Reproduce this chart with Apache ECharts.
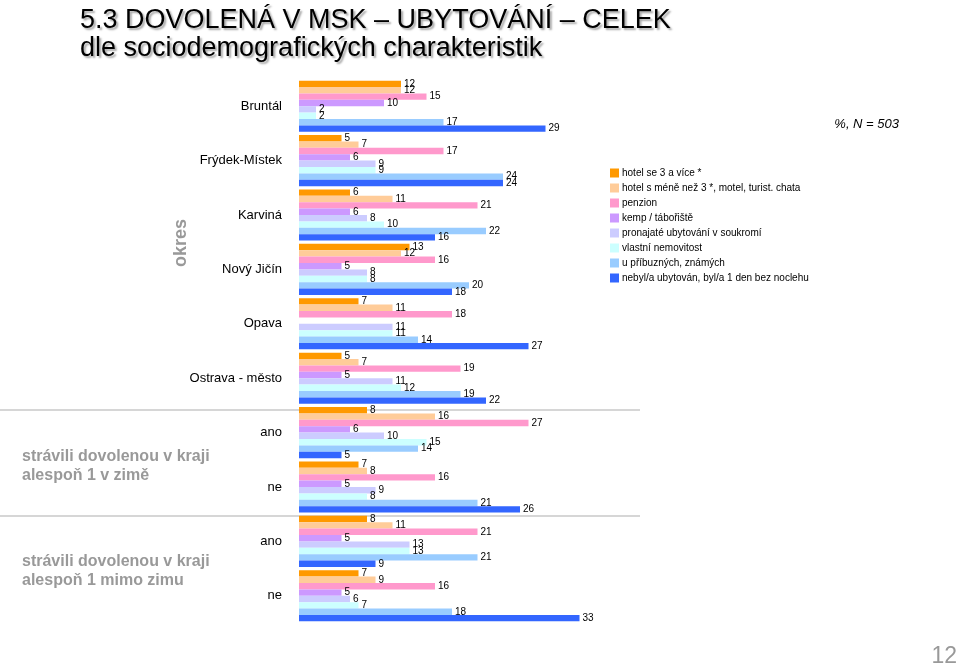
<!DOCTYPE html>
<html>
<head>
<meta charset="utf-8">
<script src="https://cdn.jsdelivr.net/npm/echarts@6/dist/echarts.min.js"></script>
<style>html,body{margin:0;padding:0;background:#fff;}#c{width:960px;height:667px;}</style>
</head>
<body>
<div id="c"></div>
<script>
const categories = ['Bruntál','Frýdek-Místek','Karviná','Nový Jičín','Opava','Ostrava - město','ano','ne','ano','ne'];
const seriesNames = ['hotel se 3 a více *','hotel s méně než 3 *, motel, turist. chata','penzion','kemp / tábořiště','pronajaté ubytování v soukromí','vlastní nemovitost','u příbuzných, známých','nebyl/a ubytován, byl/a 1 den bez noclehu'];
const hotel3 =     [12, 5, 6, 13, 7, 5, 8, 7, 8, 7];
const hotelLess =  [12, 7, 11, 12, 11, 7, 16, 8, 11, 9];
const penzion =    [15, 17, 21, 16, 18, 19, 27, 16, 21, 16];
const kemp =       [10, 6, 6, 5, null, 5, 6, 5, 5, 5];
const pronajate =  [2, 9, 8, 8, 11, 11, 10, 9, 13, 6];
const vlastni =    [2, 9, 10, 8, 11, 12, 15, 8, 13, 7];
const pribuzni =   [17, 24, 22, 20, 14, 19, 14, 21, 21, 18];
const nebyl =      [29, 24, 16, 18, 27, 22, 5, 26, 9, 33];
const seriesData = [hotel3, hotelLess, penzion, kemp, pronajate, vlastni, pribuzni, nebyl];
const colors = ['#FF9900','#FFCC99','#FF99CC','#CC99FF','#CCCCFF','#CCFFFF','#99CCFF','#3366FF'];

const FONT = 'Liberation Sans, Arial, sans-serif';
const chart = echarts.init(document.getElementById('c'));
chart.setOption({
  animation: false,
  color: colors,
  textStyle: { fontFamily: FONT },
  grid: { left: 299, top: 79, width: 340, bottom: 44 },
  xAxis: { type: 'value', min: 0, max: 40, show: false },
  yAxis: {
    type: 'category', data: categories, inverse: true,
    axisLine: { show: false }, axisTick: { show: false }, splitLine: { show: false },
    axisLabel: { color: '#000', fontSize: 13, margin: 17, fontFamily: FONT }
  },
  legend: {
    orient: 'vertical', left: 605, top: 162,
    itemWidth: 9, itemHeight: 9, itemGap: 3, icon: 'rect',
    textStyle: { fontSize: 10, lineHeight: 12, color: '#000', fontFamily: FONT, padding: [0,0,0,-2] },
    data: seriesNames
  },
  series: seriesNames.map((n, i) => ({
    name: n, type: 'bar', data: seriesData[i],
    barGap: '0%', barCategoryGap: '6%',
    label: { show: true, position: 'right', distance: 3, fontSize: 10, color: '#000', fontFamily: FONT }
  })),
  graphic: [
    { type: 'text', left: 80, top: 7, style: { text: '5.3 DOVOLENÁ V MSK – UBYTOVÁNÍ – CELEK', font: '27px ' + FONT, fill: '#000', textShadowColor: 'rgba(0,0,0,0.35)', textShadowOffsetX: 2, textShadowOffsetY: 2, textShadowBlur: 2 } },
    { type: 'text', left: 80, top: 35, style: { text: 'dle sociodemografických charakteristik', font: '27px ' + FONT, fill: '#000', textShadowColor: 'rgba(0,0,0,0.35)', textShadowOffsetX: 2, textShadowOffsetY: 2, textShadowBlur: 2 } },
    { type: 'text', x: 181, y: 243, rotation: Math.PI / 2, style: { text: 'okres', font: 'bold 18px ' + FONT, fill: '#999', align: 'center', verticalAlign: 'middle' } },
    { type: 'text', left: 22, top: 447, style: { text: 'strávili dovolenou v kraji\nalespoň 1 v zimě', font: 'bold 16px ' + FONT, fill: '#999', lineHeight: 19 } },
    { type: 'text', left: 22, top: 552, style: { text: 'strávili dovolenou v kraji\nalespoň 1 mimo zimu', font: 'bold 16px ' + FONT, fill: '#999', lineHeight: 19 } },
    { type: 'line', shape: { x1: 0, y1: 410, x2: 640, y2: 410 }, style: { stroke: '#c8c8c8', lineWidth: 1.5 } },
    { type: 'line', shape: { x1: 0, y1: 516, x2: 640, y2: 516 }, style: { stroke: '#c8c8c8', lineWidth: 1.5 } },
    { type: 'text', right: 61, top: 118, style: { text: '%, N = 503', font: 'italic 13px ' + FONT, fill: '#000' } },
    { type: 'text', right: 3, top: 645, style: { text: '12', font: '23px ' + FONT, fill: '#999' } }
  ]
});
</script>
</body>
</html>
